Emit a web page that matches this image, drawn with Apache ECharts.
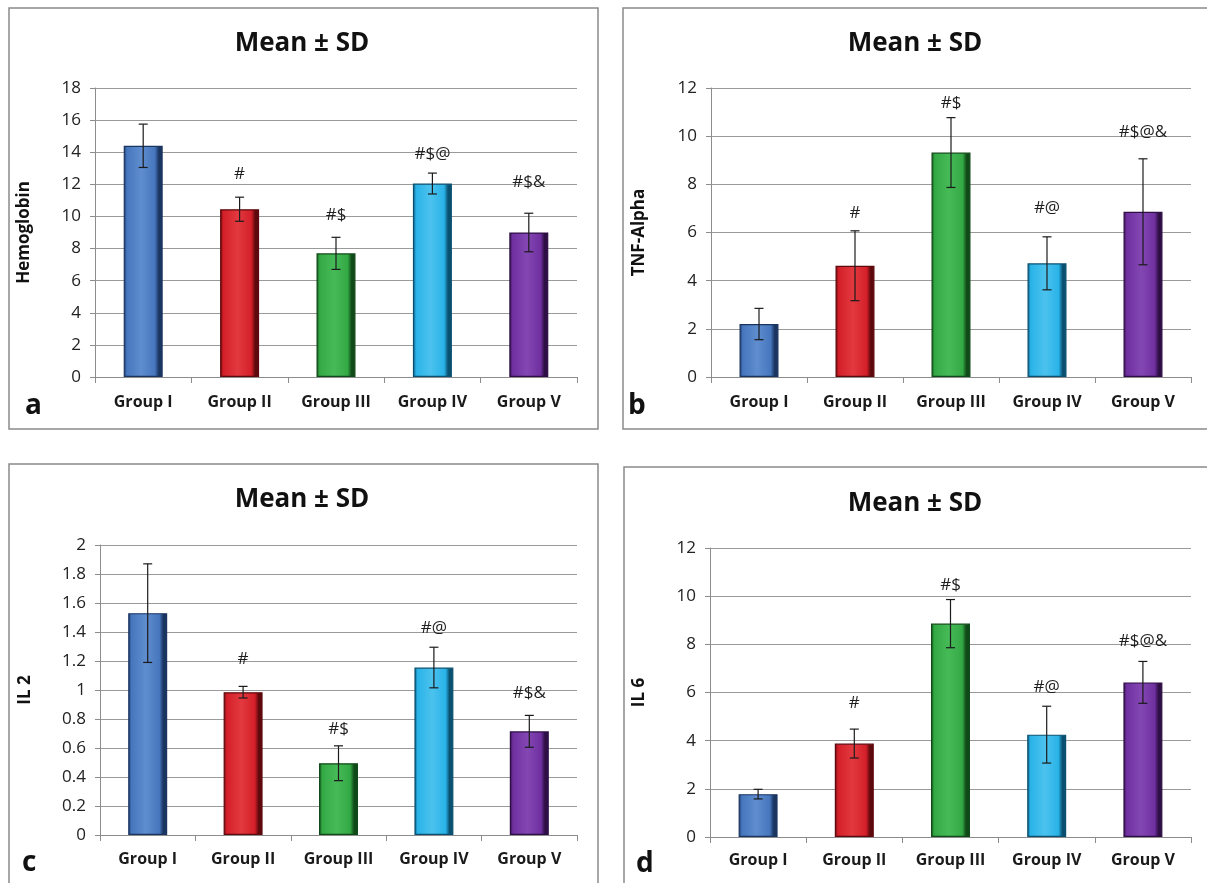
<!DOCTYPE html>
<html>
<head>
<meta charset="utf-8">
<script src="https://cdn.jsdelivr.net/npm/echarts@6/dist/echarts.min.js"></script>
<style>
html,body{margin:0;padding:0;background:#fff;}
#chart{width:1207px;height:883px;}
</style>
</head>
<body>
<div id="chart"></div>
<script>
// ---------------- DATA ----------------
const categories = ['Group I', 'Group II', 'Group III', 'Group IV', 'Group V'];

const hbMean   = [14.4, 10.45, 7.7, 12.05, 9.0];
const hbSD     = [1.35, 0.75, 1.0, 0.65, 1.2];
const hbMarks  = ['', '#', '#$', '#$@', '#$&'];
const hbMarkAt = [0, 12.66, 10.07, 13.9, 12.14];

const tnfMean   = [2.2, 4.62, 9.32, 4.72, 6.86];
const tnfSD     = [0.65, 1.45, 1.45, 1.1, 2.2];
const tnfMarks  = ['', '#', '#$', '#@', '#$@&'];
const tnfMarkAt = [0, 6.81, 11.35, 7.0, 10.17];

const il2Mean   = [1.53, 0.985, 0.495, 1.155, 0.715];
const il2SD     = [0.34, 0.04, 0.12, 0.14, 0.11];
const il2Marks  = ['', '#', '#$', '#@', '#$&'];
const il2MarkAt = [0, 1.212, 0.733, 1.424, 0.975];

const il6Mean   = [1.78, 3.88, 8.86, 4.25, 6.42];
const il6SD     = [0.2, 0.6, 1.0, 1.18, 0.87];
const il6Marks  = ['', '#', '#$', '#@', '#$@&'];
const il6MarkAt = [0, 5.55, 10.44, 6.22, 8.13];

const panelTitles = ['Mean ± SD', 'Mean ± SD', 'Mean ± SD', 'Mean ± SD'];
const panelLetters = ['a', 'b', 'c', 'd'];
const yNames = ['Hemoglobin', 'TNF-Alpha', 'IL 2', 'IL 6'];
const yMax = [18, 12, 2, 12];
const yStep = [2, 2, 0.2, 2];

// ---------------- STYLE ----------------
const palette = [
  {base: '#4676bd', light: '#5f8dcf', dark: '#1b3561'},
  {base: '#d41f29', light: '#e2393f', dark: '#5e090d'},
  {base: '#33a944', light: '#47ba58', dark: '#104a18'},
  {base: '#29b3e8', light: '#4cc2ee', dark: '#0a5070'},
  {base: '#7030a0', light: '#8347b3', dark: '#2e0f45'}
];
function barFill(c) {
  return {
    type: 'linear', x: 0, y: 0, x2: 1, y2: 0,
    colorStops: [
      {offset: 0, color: c.dark},
      {offset: 0.08, color: c.base},
      {offset: 0.45, color: c.light},
      {offset: 0.8, color: c.base},
      {offset: 0.9, color: c.dark},
      {offset: 1, color: c.dark}
    ]
  };
}

const FONT = '"Open Sans", "Noto Sans", sans-serif';
const grids = [
  {left: 95,  top: 88,  width: 482, height: 289},
  {left: 711, top: 88,  width: 480, height: 289},
  {left: 100, top: 545, width: 477, height: 290},
  {left: 710, top: 548, width: 481, height: 289}
];
const nameGaps = [62, 63, 66, 62];
const labelMargins = [17, 17, 16, 15];
const titlePos = [[302, 44], [915, 44], [302, 500], [915, 504]];
const letterPos = [[25, 406], [628, 406], [22, 863], [636, 864]];
const borders = [
  {x: 9, y: 8, w: 589, h: 421},
  {x: 623, y: 8, w: 600, h: 421},
  {x: 9, y: 464, w: 589, h: 440},
  {x: 624, y: 467, w: 600, h: 440}
];

const panels = [
  {mean: hbMean, sd: hbSD, marks: hbMarks, markAt: hbMarkAt},
  {mean: tnfMean, sd: tnfSD, marks: tnfMarks, markAt: tnfMarkAt},
  {mean: il2Mean, sd: il2SD, marks: il2Marks, markAt: il2MarkAt},
  {mean: il6Mean, sd: il6SD, marks: il6Marks, markAt: il6MarkAt}
];

const xAxis = [], yAxis = [], series = [], graphic = [];

panels.forEach(function (p, k) {
  xAxis.push({
    type: 'category', gridIndex: k, data: categories,
    axisLine: {lineStyle: {color: '#8c8c8c', width: 1}},
    axisTick: {show: true, length: 6, alignWithLabel: false, lineStyle: {color: '#8c8c8c'}},
    axisLabel: {color: '#1a1a1a', fontFamily: FONT, fontWeight: 'bold', fontSize: 16, margin: labelMargins[k]},
    splitLine: {show: false}
  });
  yAxis.push({
    type: 'value', gridIndex: k, min: 0, max: yMax[k], interval: yStep[k],
    name: yNames[k], nameLocation: 'middle', nameRotate: 90, nameGap: nameGaps[k],
    nameTextStyle: {color: '#111', fontFamily: FONT, fontWeight: 'bold', fontSize: 17},
    axisLine: {show: true, lineStyle: {color: '#8c8c8c', width: 1}},
    axisTick: {show: true, length: 5, lineStyle: {color: '#8c8c8c'}},
    axisLabel: {color: '#222', fontFamily: FONT, fontSize: 17, margin: 14},
    splitLine: {show: true, lineStyle: {color: '#9a9a9a', width: 1}}
  });
  series.push({
    type: 'bar', xAxisIndex: k, yAxisIndex: k, barWidth: 39,
    data: p.mean.map(function (v, i) {
      return {value: v, itemStyle: {color: barFill(palette[i]), borderColor: palette[i].dark, borderWidth: 1.2}};
    }),
    z: 2
  });
  series.push({
    type: 'custom', xAxisIndex: k, yAxisIndex: k, z: 5,
    data: p.mean.map(function (v, i) { return [i, v, p.sd[i]]; }),
    renderItem: function (params, api) {
      const i = api.value(0), m = api.value(1), s = api.value(2);
      const hi = api.coord([i, m + s]);
      const lo = api.coord([i, m - s]);
      const hw = 4.5;
      const st = {stroke: '#1b1b1b', lineWidth: 1.2};
      return {
        type: 'group',
        children: [
          {type: 'line', shape: {x1: hi[0], y1: hi[1], x2: lo[0], y2: lo[1]}, style: st},
          {type: 'line', shape: {x1: hi[0] - hw, y1: hi[1], x2: hi[0] + hw, y2: hi[1]}, style: st},
          {type: 'line', shape: {x1: lo[0] - hw, y1: lo[1], x2: lo[0] + hw, y2: lo[1]}, style: st}
        ]
      };
    }
  });
  series.push({
    type: 'custom', xAxisIndex: k, yAxisIndex: k, z: 6, clip: false,
    data: p.marks.map(function (t, i) { return [i, p.markAt[i], t]; }),
    renderItem: function (params, api) {
      const i = api.value(0), y = api.value(1);
      const t = p.marks[params.dataIndex];
      if (!t) return null;
      const pt = api.coord([i, y]);
      return {
        type: 'text', x: pt[0], y: pt[1],
        style: {text: t, fill: '#1e1e1e', font: '17px ' + FONT, textAlign: 'center', textVerticalAlign: 'middle'}
      };
    }
  });
  const b = borders[k];
  graphic.push({
    type: 'rect', shape: {x: b.x, y: b.y, width: b.w, height: b.h},
    style: {fill: 'none', stroke: '#8a8a8a', lineWidth: 1.5}, z: 0, silent: true
  });
  graphic.push({
    type: 'text', x: titlePos[k][0], y: titlePos[k][1],
    style: {text: panelTitles[k], fill: '#111', font: 'bold 26px ' + FONT, textAlign: 'center', textVerticalAlign: 'middle'}
  });
  graphic.push({
    type: 'text', x: letterPos[k][0], y: letterPos[k][1],
    style: {text: panelLetters[k], fill: '#111', font: 'bold 28px ' + FONT, textAlign: 'left', textVerticalAlign: 'middle'}
  });
});

const chart = echarts.init(document.getElementById('chart'), null, {renderer: 'canvas'});
chart.setOption({
  backgroundColor: '#ffffff',
  animation: false,
  grid: grids,
  xAxis: xAxis,
  yAxis: yAxis,
  series: series,
  graphic: graphic
});
</script>
</body>
</html>
